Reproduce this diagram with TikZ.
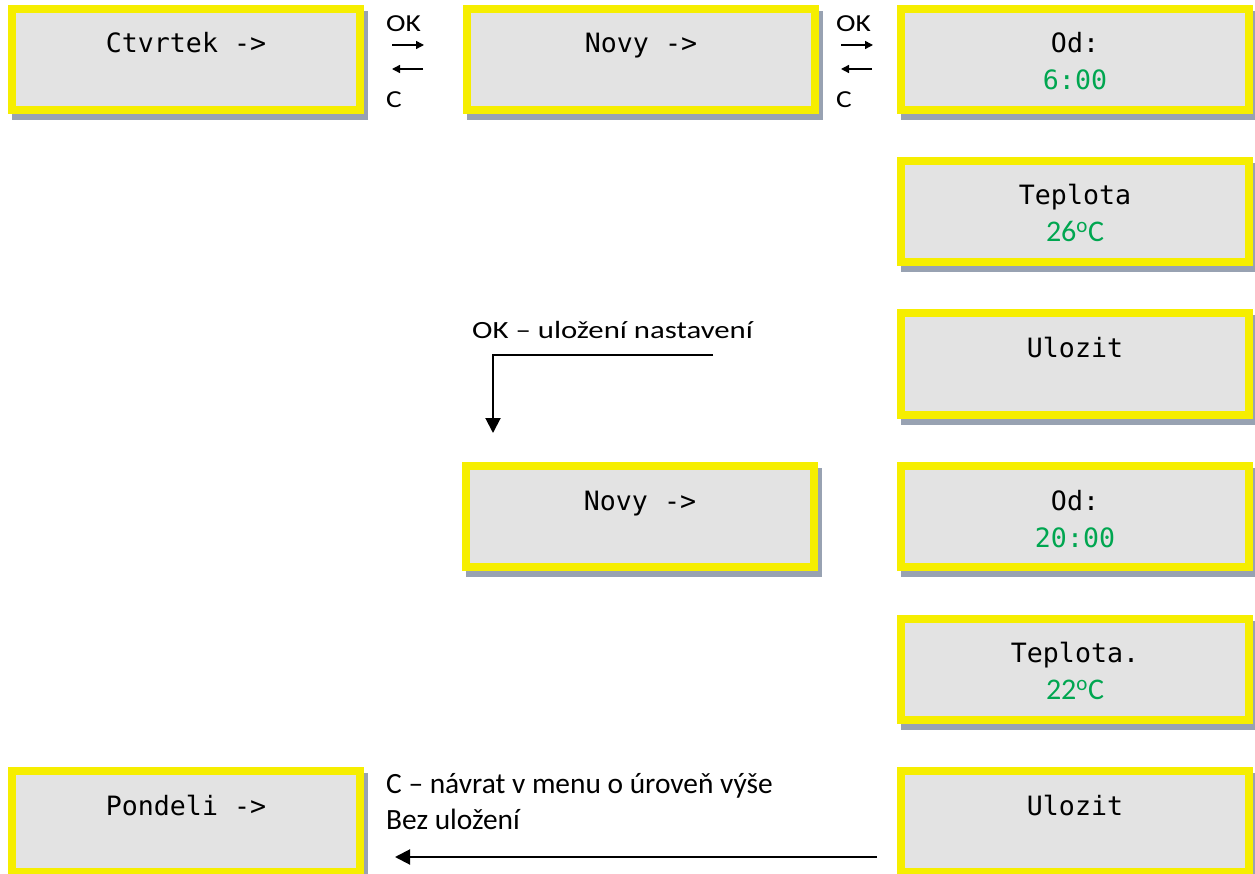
\documentclass[tikz,border=0pt]{standalone}
\usepackage{fontspec}
\usepackage{graphicx}
\usetikzlibrary{arrows.meta,shadows}
\newfontfamily\monofont{DejaVu Sans Mono}
\newfontfamily\lblfont{Carlito}
\definecolor{boxyellow}{RGB}{246,238,0}
\definecolor{boxgray}{RGB}{227,227,227}
\definecolor{shadowgray}{RGB}{152,162,178}
\definecolor{valgreen}{RGB}{0,166,80}
\begin{document}
\begin{tikzpicture}[x=1pt,y=-1pt,
  box/.style={draw=boxyellow, line width=8pt, fill=boxgray,
    minimum width=348pt, minimum height=101pt, inner sep=0pt, outer sep=0pt,
    general shadow={fill=shadowgray, draw=shadowgray, line width=8pt,
      shadow xshift=4pt, shadow yshift=-6pt}},
  mono/.style={font=\monofont\fontsize{26.6}{30}\selectfont, inner sep=0pt, anchor=base},
  monog/.style={mono, text=valgreen},
  degr/.style={font=\lblfont\fontsize{30}{34}\selectfont, inner sep=0pt, anchor=base, text=valgreen},
  lbl/.style={font=\lblfont\fontsize{29.4}{34}\selectfont, inner sep=0pt, anchor=base west},
  lblbig/.style={lbl, font=\lblfont\fontsize{30.2}{34}\selectfont},
  smallarrow/.style={line width=1.4pt, -{Triangle[length=8pt,width=8pt]}},
  bigarrow/.style={line width=2pt, -{Triangle[length=15pt,width=15pt]}}
]
\useasboundingbox (0,0) rectangle (1255,874);

% boxes
\node[box] (b1) at (186,59.5) {};
\node[box] (b2) at (641,59.5) {};
\node[box] (b3) at (1075,59.5) {};
\node[box] (b4) at (1075,211.5) {};
\node[box] (b5) at (1075,364) {};
\node[box] (b6) at (640,516.5) {};
\node[box] (b7) at (1075,516.5) {};
\node[box] (b8) at (1075,669) {};
\node[box] (b9) at (186,821.5) {};
\node[box] (b10) at (1075,821.5) {};

% box texts
\node[mono] (t1) at (186,53) {Ctvrtek ->};
\node[mono] (t2) at (641,53) {Novy ->};
\node[mono] (t3) at (1075,53) {Od:};
\node[monog] (t3b) at (1075,90) {6:00};
\node[mono] (t4) at (1075,205) {Teplota};
\node[degr] (t4b) at (1075,242) {26\textsuperscript{o}C};
\node[mono] (t5) at (1075,357.5) {Ulozit};
\node[mono] (t6) at (640,510) {Novy ->};
\node[mono] (t7) at (1075,510) {Od:};
\node[monog] (t7b) at (1075,547) {20:00};
\node[mono] (t8) at (1075,662.5) {Teplota.};
\node[degr] (t8b) at (1075,699.5) {22\textsuperscript{o}C};
\node[mono] (t9) at (186,815) {Pondeli ->};
\node[mono] (t10) at (1075,815) {Ulozit};

% small OK / C arrows
\node[lbl] (ok1) at (386,31.7) {\scalebox{1}[0.83]{OK}};
\node[lbl] (c1) at (386,108) {\scalebox{1}[0.83]{C}};
\coordinate (a1s) at (392,45);
\coordinate (a1e) at (424,45);
\coordinate (a2s) at (423,69);
\coordinate (a2e) at (392,69);
\draw[smallarrow] (a1s) -- (a1e);
\draw[smallarrow] (a2s) -- (a2e);

\node[lbl] (ok2) at (836,31.7) {\scalebox{1}[0.83]{OK}};
\node[lbl] (c2) at (836,108) {\scalebox{1}[0.83]{C}};
\coordinate (a3s) at (841,45);
\coordinate (a3e) at (873,45);
\coordinate (a4s) at (872,69);
\coordinate (a4e) at (841,69);
\draw[smallarrow] (a3s) -- (a3e);
\draw[smallarrow] (a4s) -- (a4e);

% save arrow
\node[lblbig] (savelbl) at (472,338) {\scalebox{1.02}[0.82]{OK – uložení nastavení}};
\coordinate (s1) at (713,355);
\coordinate (s2) at (493,433);
\draw[bigarrow] (s1) -| (s2);

% back arrow
\node[lbl] (backlbl1) at (386,793) {C – návrat v menu o úroveň výše};
\node[lbl] (backlbl2) at (386,829) {Bez uložení};
\coordinate (r1) at (877,857);
\coordinate (r2) at (395,857);
\draw[bigarrow] (r1) -- (r2);
\end{tikzpicture}
\end{document}
